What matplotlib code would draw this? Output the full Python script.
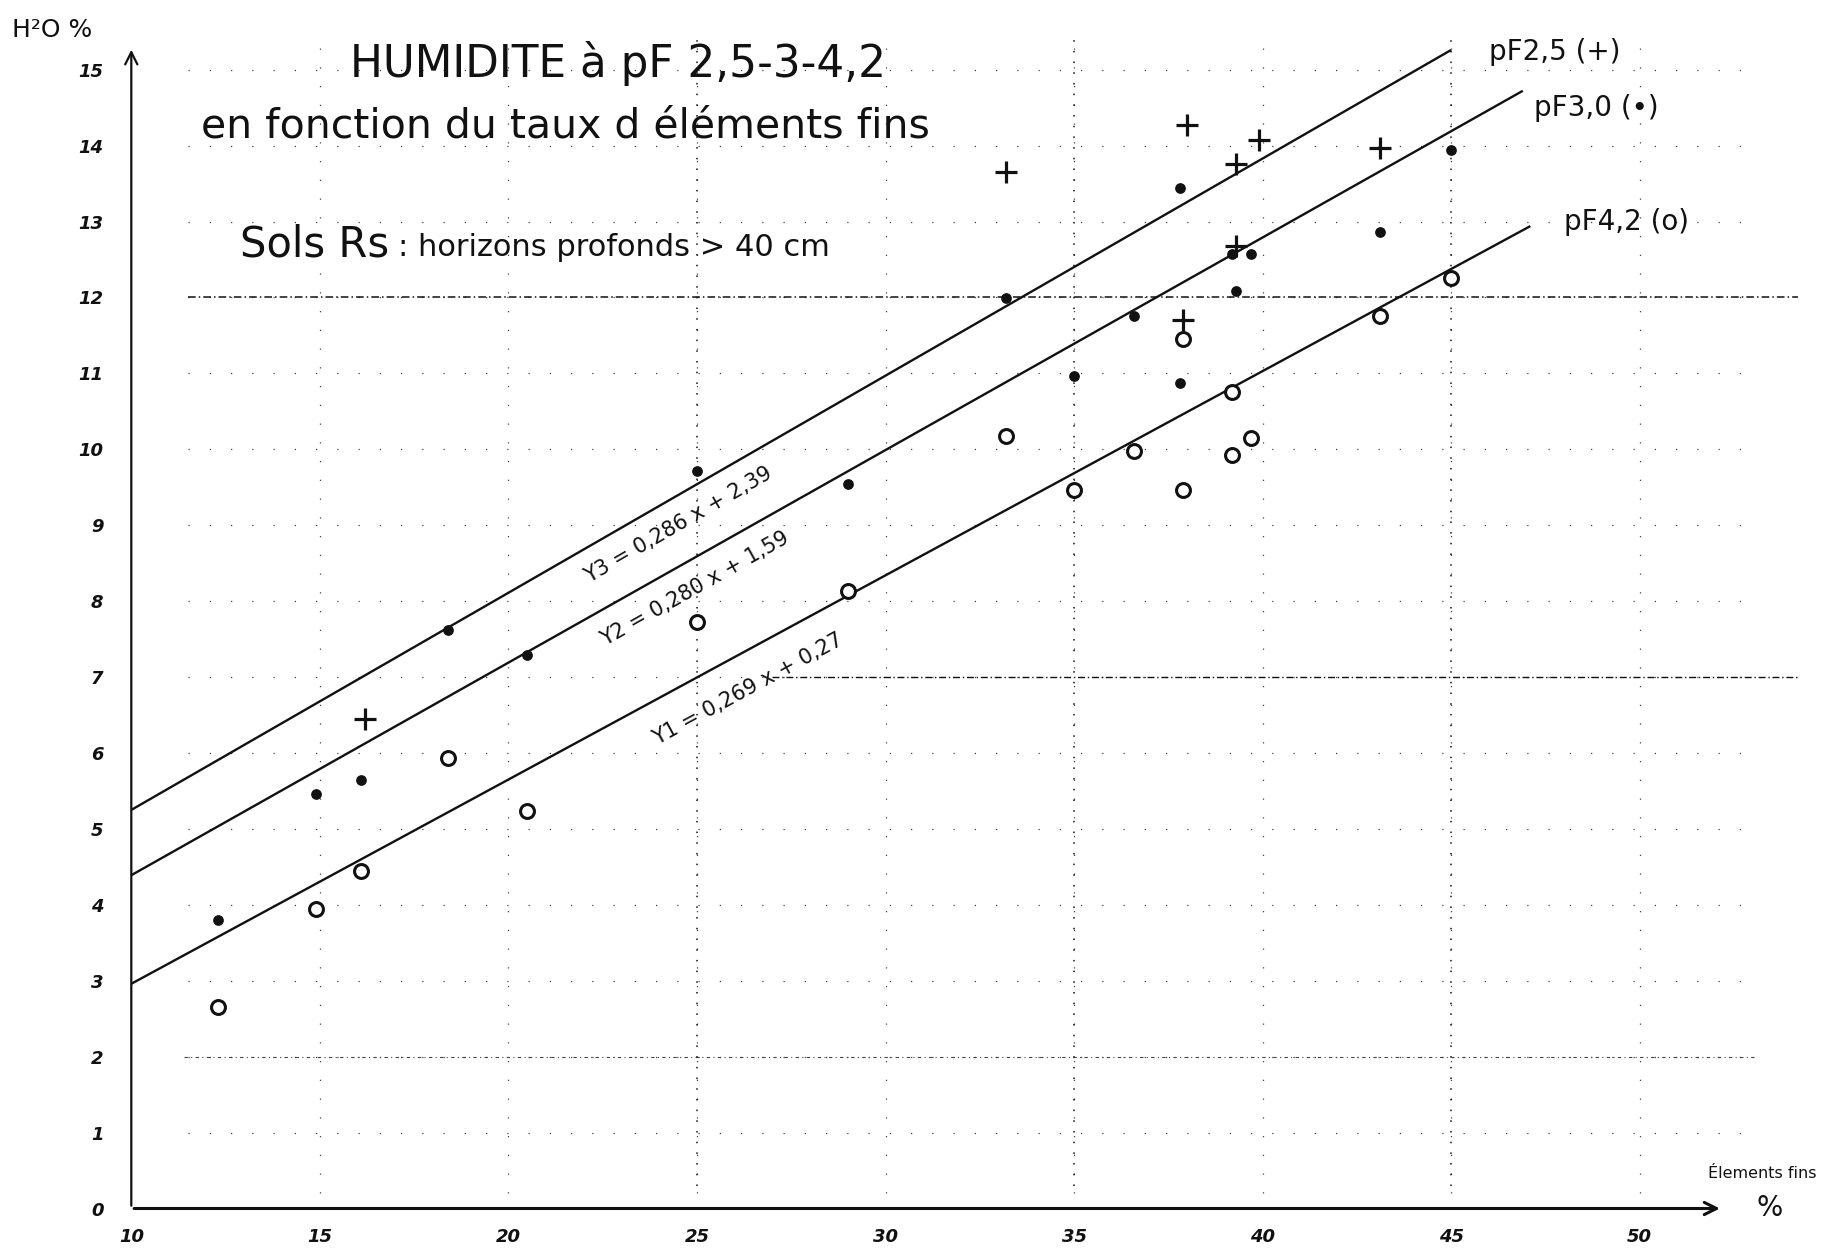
import numpy as np
import matplotlib
matplotlib.use("Agg")
import matplotlib.pyplot as plt

# ---------------- data ----------------
pf25_x = [16.2, 33.2, 38.0, 39.3, 39.9, 43.1, 39.3, 37.9]
pf25_y = [6.45, 13.65, 14.27, 13.76, 14.07, 13.97, 12.68, 11.70]

pf30_x = [12.3, 14.9, 16.1, 18.4, 20.5, 25.0, 29.0, 33.2, 35.0, 36.6, 37.8, 37.8,
          39.2, 39.7, 39.3, 43.1, 45.0]
pf30_y = [3.80, 5.46, 5.65, 7.62, 7.29, 9.72, 9.54, 11.99, 10.96, 11.76, 13.44, 10.87,
          12.57, 12.57, 12.09, 12.86, 13.94]

pf42_x = [12.3, 14.9, 16.1, 18.4, 20.5, 25.0, 29.0, 33.2, 35.0, 36.6, 37.9, 37.9,
          39.2, 39.7, 39.2, 43.1, 45.0]
pf42_y = [2.66, 3.95, 4.45, 5.94, 5.23, 7.73, 8.14, 10.18, 9.47, 9.98, 9.46, 11.45,
          9.93, 10.15, 10.76, 11.76, 12.26]

# regression lines  y = a x + b
fit_a = [0.286, 0.280, 0.269]
fit_b = [2.39, 1.59, 0.27]
fit_xend = [45.0, 46.9, 47.1]
fit_names = ["pF2,5 (+)", "pF3,0 (•)", "pF4,2 (o)"]
fit_eq = ["Y3 = 0,286 x + 2,39", "Y2 = 0,280 x + 1,59", "Y1 = 0,269 x + 0,27"]

x_ticks = [10, 15, 20, 25, 30, 35, 40, 45, 50]
y_ticks = list(range(0, 16))

# ---------------- figure ----------------
W, H = 1822, 1257
fig = plt.figure(figsize=(W / 100, H / 100), dpi=100)
fig.patch.set_facecolor("white")

x0_px, y0_px = 131.3, 1208.5      # position of (10, 0)
px_x, px_y = 37.71, 75.92         # pixels per unit
xmax, ymax = 54.2, 15.9
left = x0_px / W
bottom = (H - y0_px) / H
width = (xmax - 10) * px_x / W
height = ymax * px_y / H
ax = fig.add_axes([left, bottom, width, height])
ax.set_xlim(10, xmax)
ax.set_ylim(0, ymax)
for s in ax.spines.values():
    s.set_visible(False)
ax.patch.set_alpha(0)

ink = "#111111"
gridc = "#444444"

# sparse dotted grid
for yv in y_ticks[1:]:
    ax.plot([11.5, 53.2], [yv, yv], ls=(0, (1, 16)), lw=0.9, color=gridc, zorder=1)
for xv in x_ticks[1:]:
    ax.plot([xv, xv], [0.2, 15.5], ls=(0, (1, 14)), lw=0.9, color=gridc, zorder=1)
# heavier dash-dot guide lines
ax.plot([11.5, 54.2], [12, 12], ls=(0, (5, 2, 1, 2)), lw=1.1, color=ink, zorder=1)
ax.plot([27.0, 54.2], [7, 7], ls=(0, (5, 2, 1, 2)), lw=1.0, color=ink, zorder=1)
ax.plot([11.4, 53.1], [2, 2], ls=(0, (3, 3, 1, 3)), lw=0.8, color=gridc, zorder=1)
for xv in [25, 35, 45]:
    ax.plot([xv, xv], [0.3, 15.4], ls=(0, (1, 6)), lw=1.1, color=ink, zorder=1)

# axes with arrows
ax.annotate("", xy=(10, 15.3), xytext=(10, 0), xycoords="data",
            arrowprops=dict(arrowstyle="->", lw=1.6, color=ink, mutation_scale=22),
            annotation_clip=False)
ax.annotate("", xy=(52.2, 0), xytext=(10, 0), xycoords="data",
            arrowprops=dict(arrowstyle="->", lw=2.2, color=ink, mutation_scale=22),
            annotation_clip=False)

# tick labels
ax.set_xticks(x_ticks)
ax.set_yticks(y_ticks)
ax.set_xticklabels([str(v) for v in x_ticks], fontsize=13, color=ink,
                   style="italic", fontweight="bold")
ax.set_yticklabels([str(v) for v in y_ticks], fontsize=13, color=ink,
                   style="italic", fontweight="bold")
ax.tick_params(axis="both", length=0)
ax.tick_params(axis="x", pad=14)
ax.tick_params(axis="y", pad=20)

# regression lines
for a, b, xe in zip(fit_a, fit_b, fit_xend):
    xs = np.array([10, xe])
    ax.plot(xs, a * xs + b, color=ink, lw=1.7, zorder=3, solid_capstyle="butt")

# data points
ax.scatter(pf25_x, pf25_y, marker="+", s=260, linewidths=2.3, color=ink, zorder=4)
ax.scatter(pf30_x, pf30_y, marker="o", s=45, color=ink, zorder=4)
ax.scatter(pf42_x, pf42_y, marker="o", s=100, facecolors="white",
           edgecolors=ink, linewidths=2.2, zorder=4)

# line names at line ends
name_pos = [(46.0, 15.23), (47.2, 14.5), (48.0, 13.0)]
for nm, (xn, yn) in zip(fit_names, name_pos):
    ax.text(xn, yn, nm, fontsize=20, color=ink, ha="left", va="center")

# equations along lines
eq_pos = [(24.5, 9.0), (24.95, 8.16), (26.35, 6.84)]
for eq, a, (xe_, ye_) in zip(fit_eq, fit_a, eq_pos):
    ax.text(xe_, ye_, eq, fontsize=15, color=ink, ha="center", va="center",
            rotation=np.degrees(np.arctan(a)), transform_rotates_text=True,
            rotation_mode="anchor")

# titles
fig.text(618 / W, 1 - 64 / H, "HUMIDITE à pF 2,5-3-4,2", fontsize=31.5,
         ha="center", va="center", color=ink)
fig.text(565 / W, 1 - 126 / H, "en fonction du taux d éléments fins", fontsize=29.5,
         ha="center", va="center", color=ink)
fig.text(240 / W, 1 - 245 / H, "Sols Rs", fontsize=30, ha="left", va="center", color=ink)
fig.text(398 / W, 1 - 247 / H, ": horizons profonds > 40 cm", fontsize=22,
         ha="left", va="center", color=ink)

# axis labels
fig.text(12 / W, 1 - 30 / H, "H²O %", fontsize=18, ha="left", va="center", color=ink)
fig.text(1708 / W, 1 - 1173 / H, "Élements fins", fontsize=11.5, ha="left",
         va="center", color=ink)
fig.text(1770 / W, 1 - 1208 / H, "%", fontsize=20, ha="center", va="center", color=ink)

fig.savefig("out.png", dpi=100, facecolor="white")
